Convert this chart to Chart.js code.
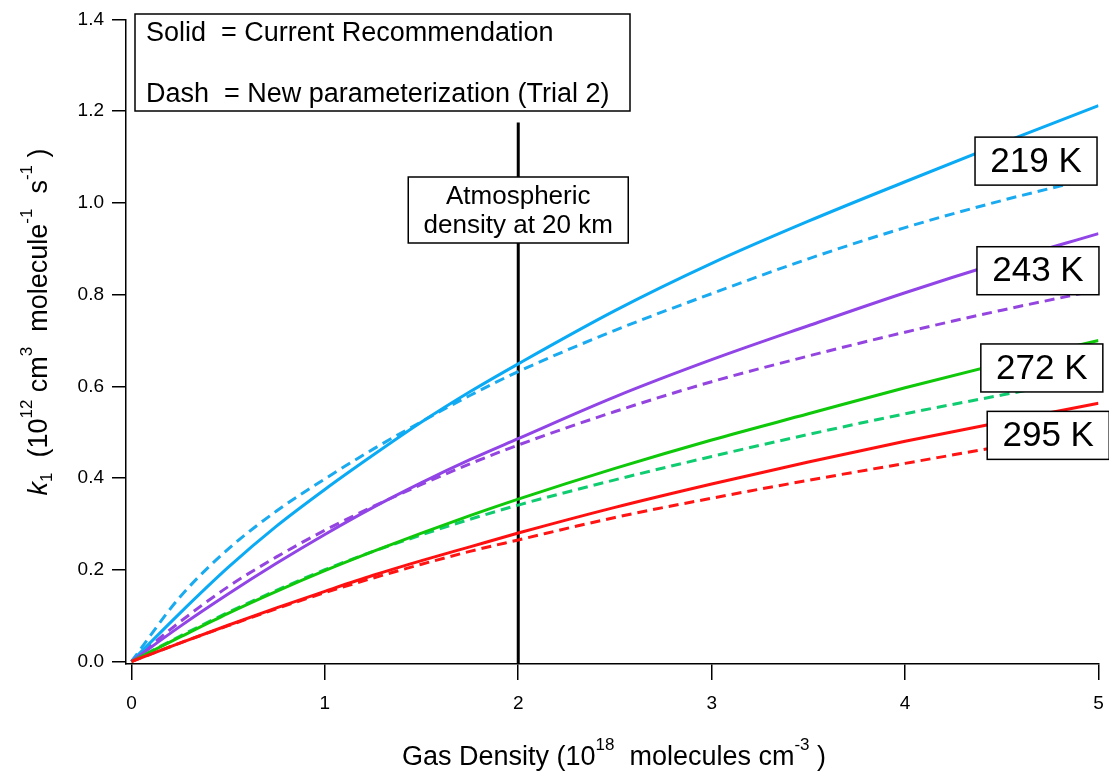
<!DOCTYPE html>
<html lang="en">
<head>
<meta charset="UTF-8">
<title>k1 vs gas density</title>
<script src="https://cdn.jsdelivr.net/npm/chart.js"></script>
<style>
  html, body { margin: 0; padding: 0; background: #fff; }
  #wrap { width: 1109px; height: 771px; }
</style>
</head>
<body>
<div id="wrap"><canvas id="chart" width="1109" height="771"></canvas></div>
<script>
// gas density, 10^18 molecules cm^-3
const density = [0, 0.25, 0.5, 0.75, 1, 1.25, 1.5, 1.75, 2, 2.5, 3, 3.5, 4, 4.5, 5];

// k1 (10^-12 cm3 molecule-1 s-1), solid = current recommendation
const k219 = [0, 0.105, 0.205, 0.295, 0.375, 0.45, 0.522, 0.588, 0.649, 0.765, 0.868, 0.96, 1.046, 1.13, 1.212];
const k243 = [0, 0.076, 0.147, 0.214, 0.277, 0.336, 0.39, 0.44, 0.486, 0.577, 0.658, 0.732, 0.804, 0.871, 0.933];
const k272 = [0, 0.053, 0.105, 0.153, 0.198, 0.24, 0.28, 0.318, 0.354, 0.421, 0.483, 0.54, 0.597, 0.65, 0.70];
const k295 = [0, 0.04, 0.079, 0.117, 0.153, 0.188, 0.22, 0.25, 0.28, 0.336, 0.387, 0.435, 0.48, 0.522, 0.563];

// dash = new parameterization (trial 2)
const k219new = [0, 0.14, 0.245, 0.328, 0.398, 0.463, 0.523, 0.58, 0.632, 0.722, 0.802, 0.878, 0.946, 1.005, 1.057];
const k243new = [0, 0.086, 0.163, 0.228, 0.286, 0.338, 0.386, 0.431, 0.472, 0.545, 0.61, 0.666, 0.718, 0.766, 0.81];
const k272new = [0, 0.055, 0.107, 0.155, 0.2, 0.24, 0.276, 0.31, 0.341, 0.396, 0.447, 0.495, 0.54, 0.581, 0.62];
const k295new = [0, 0.04, 0.078, 0.115, 0.15, 0.182, 0.212, 0.24, 0.265, 0.314, 0.356, 0.395, 0.432, 0.469, 0.505];

const tempLabels = ['219 K', '243 K', '272 K', '295 K'];
const xTicks = [0, 1, 2, 3, 4, 5];
const yTicks = [0, 0.2, 0.4, 0.6, 0.8, 1.0, 1.2, 1.4];

// vertical marker: atmospheric density at 20 km
const atmDensity = 2;
const atmTop = 1.175;

const FONT = '"Liberation Sans", Arial, Helvetica, sans-serif';
const xMin = -0.028, yMin = -0.0055;

const colors = {
  219: '#0aaaf5', 243: '#9145e6', 272: '#10c80a', 295: '#ff1010',
  219.1: '#1aaaf0', 243.1: '#9445e0', 272.1: '#10cc70', 295.1: '#ff1414'
};

function pts(ys) { return density.map((x, i) => ({ x: x, y: ys[i] })); }
function curve(ys, color, dashed) {
  return {
    data: pts(ys), borderColor: color, borderWidth: 3, pointRadius: 0,
    borderDash: dashed ? [10, 6] : [], cubicInterpolationMode: 'monotone',
    showLine: true, fill: false
  };
}

const datasets = [
  curve(k295, colors[295], false), curve(k272, colors[272], false),
  curve(k243, colors[243], false), curve(k219, colors[219], false),
  curve(k295new, colors[295.1], true), curve(k272new, colors[272.1], true),
  curve(k243new, colors[243.1], true), curve(k219new, colors[219.1], true),
  {
    data: [{ x: atmDensity, y: yMin }, { x: atmDensity, y: atmTop }],
    borderColor: '#000', borderWidth: 3, pointRadius: 0, showLine: true
  }
];

// text with super/subscripts, drawn centred on (cx, baseline)
function richText(ctx, segs, cx, by, size) {
  const small = Math.round(size * 0.63);
  const fontOf = s => (s.style === 'it' ? 'italic ' : '') + (s.style === 'sup' || s.style === 'sub' ? small : size) + 'px ' + FONT;
  let total = 0;
  segs.forEach(s => { ctx.font = fontOf(s); total += ctx.measureText(s.t).width; });
  let x = cx - total / 2;
  ctx.textAlign = 'left';
  ctx.textBaseline = 'alphabetic';
  segs.forEach(s => {
    ctx.font = fontOf(s);
    let dy = 0;
    if (s.style === 'sup') dy = -size * 0.56;
    if (s.style === 'sub') dy = size * 0.2;
    ctx.fillText(s.t, x, by + dy);
    x += ctx.measureText(s.t).width;
  });
}

function box(ctx, x0, y0, w, h) {
  ctx.fillStyle = '#fff';
  ctx.fillRect(x0, y0, w, h);
  ctx.strokeStyle = '#000';
  ctx.lineWidth = 1.5;
  ctx.strokeRect(x0, y0, w, h);
  ctx.fillStyle = '#000';
}

const annotations = {
  id: 'annotations',
  afterDatasetsDraw(chart) {
    const ctx = chart.ctx;
    const xs = chart.scales.x, ys = chart.scales.y;
    ctx.save();

    // legend box
    box(ctx, 135, 14, 495, 97);
    ctx.font = '27px ' + FONT;
    ctx.textAlign = 'left';
    ctx.textBaseline = 'middle';
    ctx.fillText('Solid  = Current Recommendation', 146, 34);
    ctx.fillText('Dash  = New parameterization (Trial 2)', 146, 95);

    // atmospheric density label
    const ax = xs.getPixelForValue(atmDensity);
    box(ctx, ax - 110, 177, 220, 66);
    ctx.font = '26px ' + FONT;
    ctx.textAlign = 'center';
    ctx.fillText('Atmospheric', ax, 197);
    ctx.fillText('density at 20 km', ax, 226);

    // temperature labels
    const labelPos = [[4.677, 1.091], [4.687, 0.852], [4.707, 0.640], [4.74, 0.493]];
    ctx.font = '35px ' + FONT;
    tempLabels.forEach((t, i) => {
      const px = xs.getPixelForValue(labelPos[i][0]);
      const py = ys.getPixelForValue(labelPos[i][1]);
      box(ctx, px - 61, py - 24, 122, 48);
      ctx.textAlign = 'center';
      ctx.textBaseline = 'middle';
      ctx.fillText(t, px, py + 1);
    });

    // axis titles
    richText(ctx, [
      { t: 'Gas Density (10' }, { t: '18', style: 'sup' }, { t: '  molecules cm' },
      { t: '-3', style: 'sup' }, { t: ' )' }
    ], 614, 765, 27);

    ctx.translate(47, 322);
    ctx.rotate(-Math.PI / 2);
    richText(ctx, [
      { t: 'k', style: 'it' }, { t: '1', style: 'sub' }, { t: '  (10' }, { t: '12', style: 'sup' },
      { t: ' cm' }, { t: '3', style: 'sup' }, { t: '  molecule' }, { t: '-1', style: 'sup' },
      { t: '  s' }, { t: '-1', style: 'sup' }, { t: ' )' }
    ], 0, 0, 27);
    ctx.restore();
  }
};

new Chart(document.getElementById('chart'), {
  type: 'scatter',
  data: { datasets: datasets },
  options: {
    responsive: false,
    animation: false,
    layout: { padding: { left: 0, top: 19, right: 10.5, bottom: 0 } },
    plugins: { legend: { display: false }, tooltip: { enabled: false } },
    scales: {
      x: {
        type: 'linear', min: xMin, max: 5,
        afterBuildTicks: s => { s.ticks = xTicks.map(v => ({ value: v })); },
        afterFit: s => { s.height = 107; s.paddingRight = 0; s.paddingLeft = 0; },
        ticks: { color: '#000', font: { family: FONT, size: 19 }, padding: 12 },
        grid: { drawOnChartArea: false, drawTicks: true, tickLength: 16, color: '#000', lineWidth: 1.5 },
        border: { color: '#000', width: 1.5 }
      },
      y: {
        type: 'linear', min: yMin, max: 1.4,
        afterBuildTicks: s => { s.ticks = yTicks.map(v => ({ value: v })); },
        afterFit: s => { s.width = 126; },
        ticks: { color: '#000', font: { family: FONT, size: 19 }, padding: 8, callback: v => v.toFixed(1) },
        grid: { drawOnChartArea: false, drawTicks: true, tickLength: 14, color: '#000', lineWidth: 1.5 },
        border: { color: '#000', width: 1.5 }
      }
    }
  },
  plugins: [annotations]
});
</script>
</body>
</html>
